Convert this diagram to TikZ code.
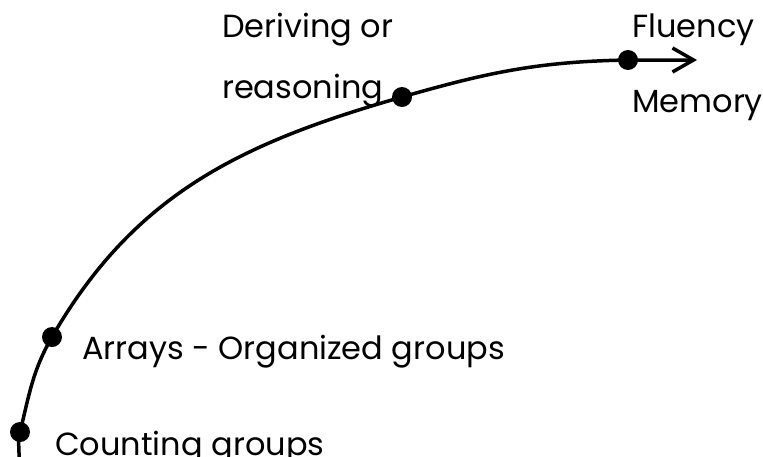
\documentclass[tikz,border=0pt]{standalone}
\usepackage{fontspec}
\setmainfont{Poppins}
\usetikzlibrary{arrows.meta}

\begin{document}
\begin{tikzpicture}[x=1pt,y=1pt,
  point/.style={circle, fill=black, inner sep=0pt, minimum size=20pt},
  etiquette/.style={anchor=base west, inner sep=0pt, font=\fontsize{32}{38}\selectfont}]
  \useasboundingbox (0,0) rectangle (763,-456);

  % Points de la courbe
  \coordinate (debut) at (19,-458);
  \node[point] (comptage) at (20,-432) {};
  \node[point] (tableaux) at (52,-337) {};
  \node[point] (raisonnement) at (402,-97) {};
  \node[point] (fluidite) at (628,-60) {};
  \coordinate (fin) at (697,-60);

  % Courbe
  \draw[line width=3.5pt, -{Straight Barb[length=21pt,width=24pt]}]
    (debut) to[out=88,in=-104] (comptage.center)
    to[out=76,in=-120] (tableaux.center)
    to[out=60,in=-164] (raisonnement.center)
    to[out=16,in=181] (fluidite.center) -- (fin);

  % Etiquettes
  \node[etiquette] (deriv) at (222,-37) {Deriving or};
  \node[etiquette] (reason) at (222,-98) {reasoning};
  \node[etiquette] (fluency) at (632,-37) {Fluency};
  \node[etiquette] (memory) at (632,-112) {Memory};
  \node[etiquette] (arrays) at (82,-359) {Arrays - Organized groups};
  \node[etiquette] (counting) at (55,-455) {Counting groups};
\end{tikzpicture}
\end{document}
